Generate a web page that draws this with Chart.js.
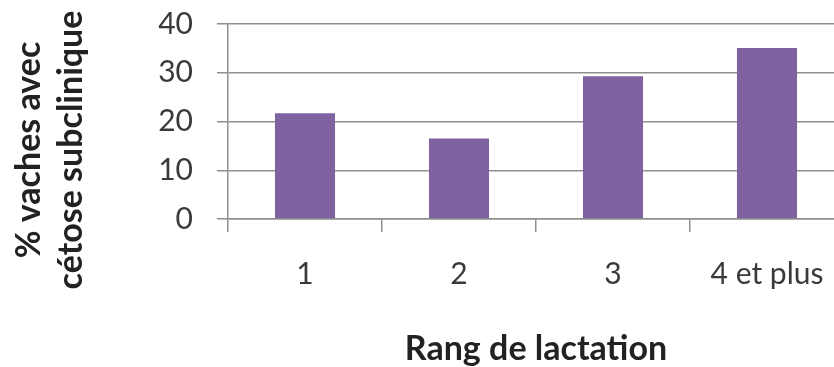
<!DOCTYPE html>
<html lang="fr">
<head>
    <meta charset="UTF-8">
    <title>Cétose subclinique selon le rang de lactation</title>
    <style>
        html, body {
            margin: 0;
            padding: 0;
            background: #fff;
            overflow: hidden;
        }
        #chart-container {
            width: 850px;
            height: 367px;
        }
    </style>
</head>
<body>
    <div id="chart-container">
        <canvas id="cetoseChart"></canvas>
    </div>

    <script src="https://cdn.jsdelivr.net/npm/chart.js"></script>
    <script>
        // donnees
        const categories = ['1', '2', '3', '4 et plus'];
        const pourcentages = [21.7, 16.5, 29.3, 35.1];
        const yTicks = [0, 10, 20, 30, 40];
        const xTitle = 'Rang de lactation';
        const yTitleLines = ['% vaches avec', 'cétose subclinique'];

        const gridColor = '#8f8f8f';
        const textColor = '#3a3a3a';

        // titre vertical sur deux lignes
        const yTitlePlugin = {
            id: 'yTitle',
            afterDraw(chart) {
                const ctx = chart.ctx;
                ctx.save();
                ctx.font = 'bold 34px Lato';
                ctx.fillStyle = '#222';
                ctx.textAlign = 'center';
                ctx.textBaseline = 'alphabetic';
                const baselines = [40, 82];
                yTitleLines.forEach((line, i) => {
                    ctx.save();
                    ctx.translate(baselines[i], 150);
                    ctx.rotate(-Math.PI / 2);
                    ctx.fillText(line, 0, 0);
                    ctx.restore();
                });
                ctx.restore();
            }
        };

        const ctx = document.getElementById('cetoseChart').getContext('2d');
        const chart = new Chart(ctx, {
            type: 'bar',
            data: {
                labels: categories,
                datasets: [{
                    data: pourcentages,
                    backgroundColor: '#7f63a1',
                    categoryPercentage: 1,
                    barPercentage: 0.39
                }]
            },
            options: {
                responsive: true,
                maintainAspectRatio: false,
                animation: false,
                layout: {
                    padding: { top: 24, right: 6, bottom: 0, left: 0 }
                },
                plugins: {
                    legend: { display: false },
                    tooltip: { enabled: false }
                },
                scales: {
                    x: {
                        afterFit: s => { s.height = 148; },
                        grid: {
                            offset: true,
                            drawOnChartArea: false,
                            tickLength: 13,
                            color: gridColor,
                            lineWidth: 1.5
                        },
                        border: { color: gridColor, width: 1.5 },
                        ticks: {
                            font: { family: 'Lato', size: 30 },
                            color: textColor,
                            padding: 24,
                            maxRotation: 0,
                            autoSkip: false
                        },
                        title: {
                            display: true,
                            text: xTitle,
                            font: { family: 'Lato', size: 34, weight: 'bold' },
                            color: '#222',
                            padding: { top: 0, bottom: -2 }
                        }
                    },
                    y: {
                        min: yTicks[0],
                        max: yTicks[yTicks.length - 1],
                        afterFit: s => {
                            s.width = 228;
                            s.paddingTop = 0;
                            s.paddingBottom = 0;
                        },
                        afterBuildTicks: s => { s.ticks = yTicks.map(v => ({ value: v })); },
                        grid: {
                            tickLength: 11,
                            color: gridColor,
                            lineWidth: 1.5
                        },
                        border: { color: gridColor, width: 1.5 },
                        ticks: {
                            font: { family: 'Lato', size: 30 },
                            color: textColor,
                            padding: 24
                        }
                    }
                }
            },
            plugins: [yTitlePlugin]
        });
    </script>
</body>
</html>
